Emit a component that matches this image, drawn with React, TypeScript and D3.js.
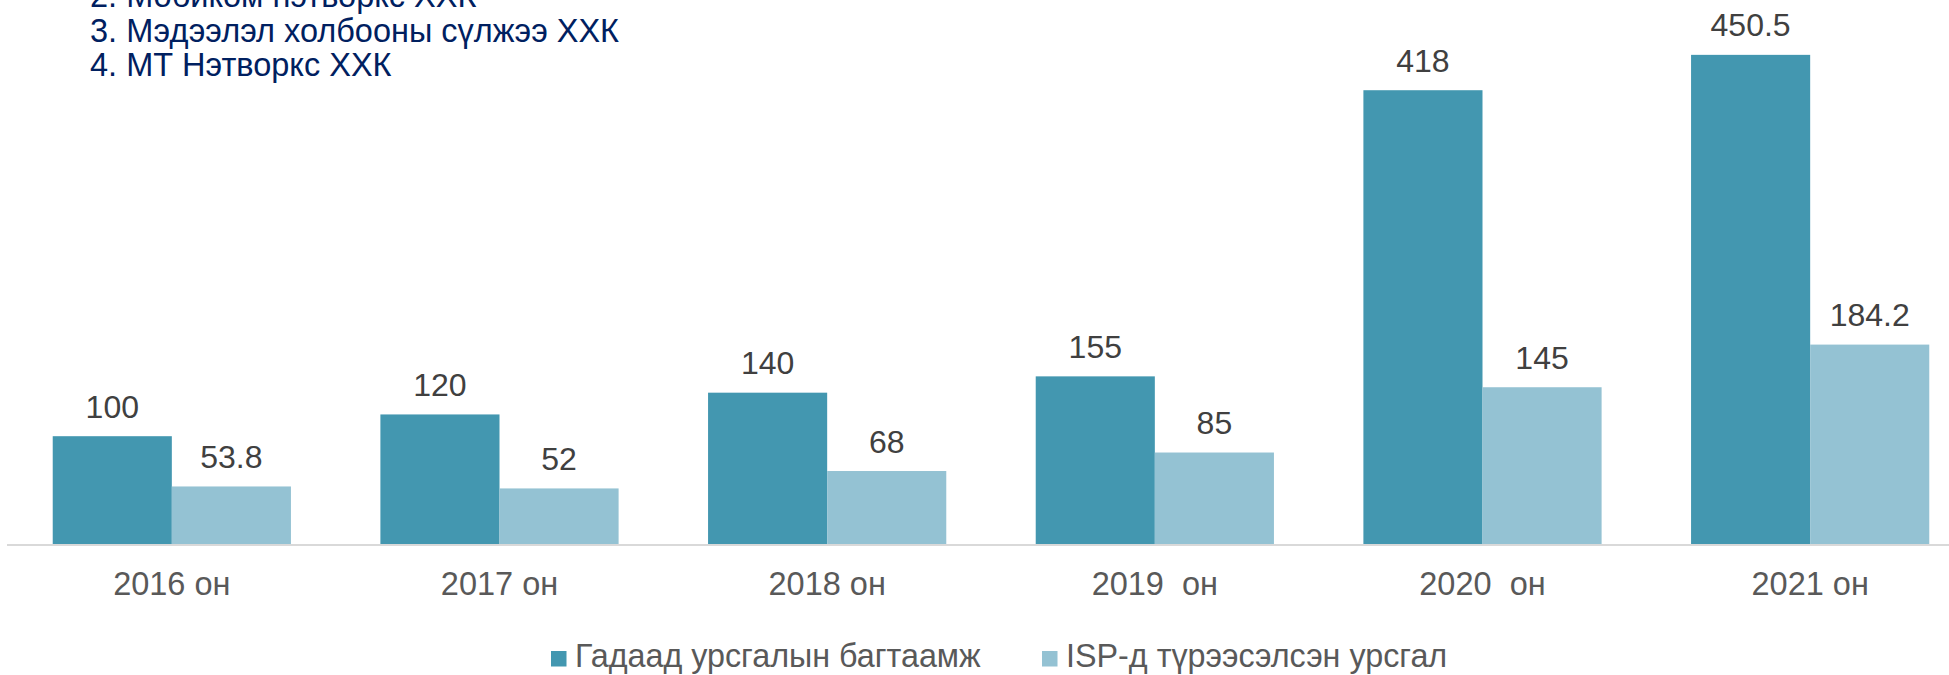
import React from "react";
import * as d3 from "d3";

const categories = ["2016 он", "2017 он", "2018 он", "2019  он", "2020  он", "2021 он"];
const seriesNames = ["Гадаад урсгалын багтаамж", "ISP-д түрээсэлсэн урсгал"];
const externalCapacity = [100, 120, 140, 155, 418, 450.5];
const ispLeased = [53.8, 52, 68, 85, 145, 184.2];
const noteLines = [
  "2. Мобиком нэтворкс ХХК",
  "3. Мэдээлэл холбооны сүлжээ ХХК",
  "4. МТ Нэтворкс ХХК",
];

const W = 1949;
const H = 675;
const COLORS = ["#4397B0", "#94C2D3"];
const FONT = "Arial, 'Liberation Sans', sans-serif";

export default function App() {
  const x = d3
    .scaleBand<string>()
    .domain(categories)
    .range([8, 1974])
    .paddingInner(0.273)
    .paddingOuter(0.1365);
  const sub = d3.scaleBand<string>().domain(["a", "b"]).range([0, x.bandwidth()]);
  const y = d3.scaleLinear().domain([0, 500]).range([545, 1]);
  const series = [externalCapacity, ispLeased];
  const keys = ["a", "b"];

  return (
    <svg
      width={W}
      height={H}
      style={{ position: "absolute", left: 0, top: 0, background: "#fff" }}
      fontFamily={FONT}
    >
      <rect x={0} y={0} width={W} height={H} fill="#fff" />
      {noteLines.map((t, i) => (
        <text key={t} x={90} y={7.4 + i * 34.3} fontSize={32.5} fill="#002060">
          {t}
        </text>
      ))}
      {series.map((vals, si) =>
        vals.map((v, i) => {
          const bx = (x(categories[i]) ?? 0) + (sub(keys[si]) ?? 0);
          const bw = sub.bandwidth();
          return (
            <g key={`${si}-${i}`}>
              <rect x={bx} y={y(v)} width={bw} height={y(0) - y(v)} fill={COLORS[si]} />
              <text
                x={bx + bw / 2}
                y={y(v) - 18.5}
                textAnchor="middle"
                fontSize={32}
                fill="#404040"
              >
                {String(v)}
              </text>
            </g>
          );
        })
      )}
      <line x1={7} x2={W} y1={545} y2={545} stroke="#d9d9d9" strokeWidth={2} />
      {categories.map((c) => (
        <text
          key={c}
          x={(x(c) ?? 0) + x.bandwidth() / 2}
          y={595}
          textAnchor="middle"
          fontSize={32.5}
          fill="#595959"
          style={{ whiteSpace: "pre" }}
        >
          {c}
        </text>
      ))}
      {seriesNames.map((n, i) => {
        const lx = [551, 1042][i];
        return (
          <g key={n}>
            <rect x={lx} y={651} width={15.5} height={15.5} fill={COLORS[i]} />
            <text x={lx + 24} y={667} fontSize={32.3} fill="#595959">
              {n}
            </text>
          </g>
        );
      })}
    </svg>
  );
}
